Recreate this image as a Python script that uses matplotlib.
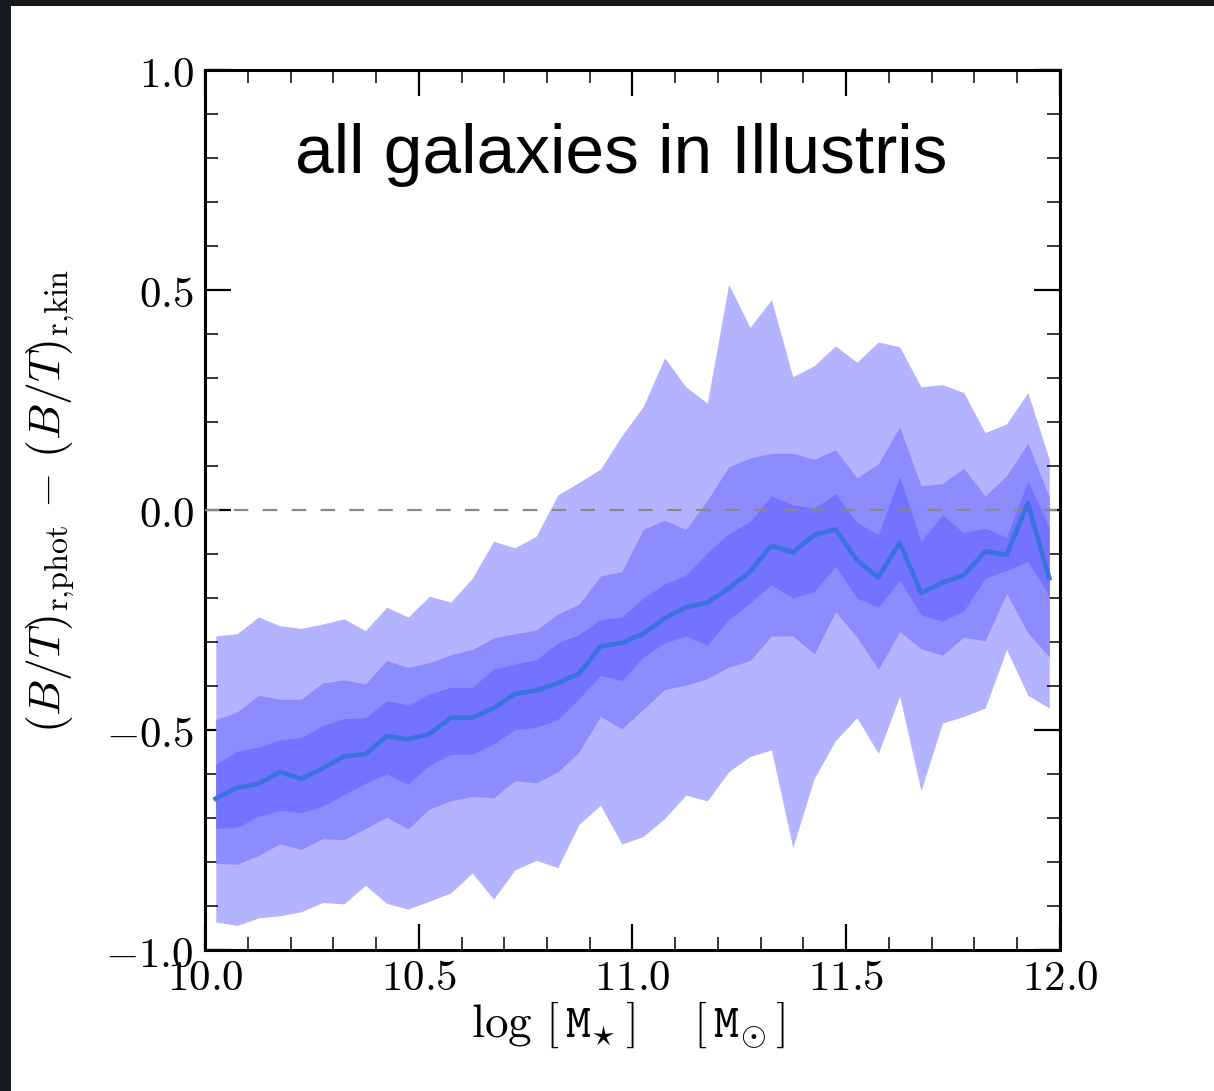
import matplotlib
matplotlib.use("Agg")
import matplotlib.pyplot as plt
from matplotlib.ticker import MultipleLocator, FuncFormatter
from matplotlib.patches import Rectangle

plt.rcParams['mathtext.fontset'] = 'cm'

# bin centres in log stellar mass
log_mstar = [10.025, 10.075, 10.125, 10.175, 10.225, 10.275, 10.325, 10.375, 10.425, 10.475,
             10.525, 10.575, 10.625, 10.675, 10.725, 10.775, 10.825, 10.875, 10.925, 10.975,
             11.025, 11.075, 11.125, 11.175, 11.225, 11.275, 11.325, 11.375, 11.425, 11.475,
             11.525, 11.575, 11.625, 11.675, 11.725, 11.775, 11.825, 11.875, 11.925, 11.975]

median = [-0.656, -0.631, -0.622, -0.595, -0.611, -0.587, -0.560, -0.555, -0.514, -0.521,
          -0.509, -0.472, -0.472, -0.450, -0.418, -0.410, -0.393, -0.372, -0.310, -0.302,
          -0.281, -0.246, -0.221, -0.211, -0.178, -0.140, -0.081, -0.096, -0.057, -0.044,
          -0.114, -0.153, -0.074, -0.188, -0.165, -0.148, -0.094, -0.102, 0.015, -0.155]

# inner band
inner_hi = [-0.578, -0.548, -0.539, -0.522, -0.517, -0.490, -0.474, -0.472, -0.433, -0.443,
            -0.418, -0.403, -0.403, -0.362, -0.350, -0.340, -0.302, -0.283, -0.249, -0.243,
            -0.200, -0.168, -0.148, -0.097, -0.054, -0.026, 0.032, 0.012, 0.004, 0.037,
            -0.028, -0.056, 0.076, -0.071, -0.011, -0.052, -0.041, -0.062, 0.066, -0.040]
inner_lo = [-0.723, -0.721, -0.696, -0.683, -0.688, -0.673, -0.647, -0.621, -0.600, -0.623,
            -0.580, -0.555, -0.555, -0.532, -0.499, -0.494, -0.476, -0.428, -0.376, -0.388,
            -0.334, -0.302, -0.286, -0.307, -0.249, -0.211, -0.170, -0.200, -0.185, -0.128,
            -0.200, -0.221, -0.160, -0.238, -0.253, -0.229, -0.155, -0.137, -0.117, -0.195]

# middle band
mid_hi = [-0.476, -0.459, -0.421, -0.430, -0.430, -0.393, -0.386, -0.395, -0.342, -0.358,
          -0.347, -0.329, -0.317, -0.291, -0.281, -0.273, -0.236, -0.214, -0.150, -0.140,
          -0.044, -0.023, -0.044, 0.022, 0.098, 0.118, 0.129, 0.129, 0.115, 0.137,
          0.073, 0.105, 0.189, 0.055, 0.060, 0.095, 0.032, 0.078, 0.152, 0.030]
mid_lo = [-0.803, -0.805, -0.785, -0.759, -0.771, -0.747, -0.749, -0.724, -0.698, -0.725,
          -0.679, -0.661, -0.651, -0.654, -0.615, -0.620, -0.595, -0.550, -0.469, -0.497,
          -0.453, -0.408, -0.398, -0.383, -0.357, -0.342, -0.286, -0.286, -0.327, -0.231,
          -0.289, -0.362, -0.276, -0.315, -0.330, -0.289, -0.297, -0.190, -0.279, -0.334]

# outer band
outer_hi = [-0.286, -0.281, -0.243, -0.263, -0.269, -0.259, -0.247, -0.274, -0.221, -0.243,
            -0.196, -0.209, -0.155, -0.071, -0.086, -0.059, 0.034, 0.063, 0.093, 0.169,
            0.235, 0.346, 0.280, 0.243, 0.513, 0.415, 0.478, 0.303, 0.328, 0.373,
            0.336, 0.382, 0.371, 0.280, 0.285, 0.267, 0.176, 0.196, 0.267, 0.115]
outer_lo = [-0.936, -0.944, -0.927, -0.922, -0.913, -0.892, -0.895, -0.853, -0.894, -0.907,
            -0.889, -0.870, -0.825, -0.884, -0.818, -0.796, -0.813, -0.714, -0.671, -0.759,
            -0.742, -0.701, -0.648, -0.661, -0.595, -0.560, -0.545, -0.767, -0.610, -0.524,
            -0.472, -0.553, -0.423, -0.638, -0.484, -0.469, -0.450, -0.317, -0.421, -0.450]

fig = plt.figure(figsize=(12.14, 10.91), dpi=100, facecolor='#15181c')
# white page on the dark screenshot background
fig.patches.append(Rectangle((11/1214, 0), 1, 1 - 6/1091, transform=fig.transFigure,
                             facecolor='white', edgecolor='none', zorder=-10))

ax = fig.add_axes([0.1689, 0.1292, 0.7042, 0.8066])

ax.fill_between(log_mstar, outer_lo, outer_hi, color='#b3b3ff', lw=0, zorder=1)
ax.fill_between(log_mstar, mid_lo, mid_hi, color='#8c8cff', lw=0, zorder=2)
ax.fill_between(log_mstar, inner_lo, inner_hi, color='#7373ff', lw=0, zorder=3)
ax.plot([10.0, 12.0], [0, 0], color='#888888', lw=1.6, dashes=(6.5, 6.5), zorder=4)
ax.plot(log_mstar, median, color='#3c72e0', lw=3.4, zorder=5)

ax.set_xlim(10.0, 12.0)
ax.set_ylim(-1.0, 1.0)

ax.xaxis.set_major_locator(MultipleLocator(0.5))
ax.xaxis.set_minor_locator(MultipleLocator(0.1))
ax.yaxis.set_major_locator(MultipleLocator(0.5))
ax.yaxis.set_minor_locator(MultipleLocator(0.1))

fmt = FuncFormatter(lambda v, p: r'$%.1f$' % v)
ax.xaxis.set_major_formatter(fmt)
ax.yaxis.set_major_formatter(fmt)

ax.tick_params(which='both', direction='in', top=True, right=True, labelsize=31)
ax.tick_params(which='major', length=19, width=1.6, pad=5)
ax.tick_params(which='minor', length=9.5, width=1.1)
ax.tick_params(axis='y', which='major', pad=8)

for s in ax.spines.values():
    s.set_linewidth(2.2)

ax.set_xlabel(r'$\log\,[\,\mathtt{M}_{\star}\,]\quad\ [\,\mathtt{M}_{\odot}\,]$', fontsize=34)
ax.xaxis.set_label_coords(0.495, -0.056)
ax.set_ylabel(r'$(B/T)_{\rm r{,}phot}\,-\,(B/T)_{\rm r{,}kin}$', fontsize=33)
ax.yaxis.set_label_coords(-0.150, 0.51)

ax.text(0.487, 0.903, 'all galaxies in Illustris', transform=ax.transAxes,
        ha='center', va='center', fontsize=50, family='Liberation Sans')

fig.savefig('out.png', dpi=100, facecolor=fig.get_facecolor())
